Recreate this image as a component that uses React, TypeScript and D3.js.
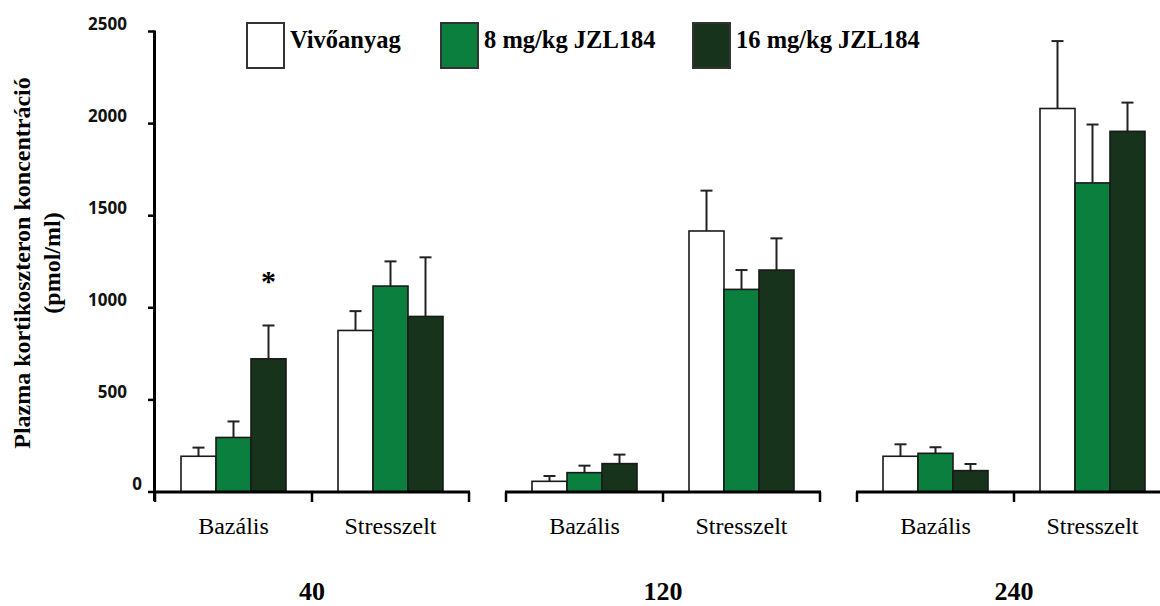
import React from 'react'
import * as d3 from 'd3'

// minutes after treatment
const durations = ['40', '120', '240']
const conditions = ['Bazális', 'Stresszelt']
const seriesNames = ['Vivőanyag', '8 mg/kg JZL184', '16 mg/kg JZL184']
const seriesColors = ['#ffffff', '#0b7f3e', '#17331b']

// means and SEM, ordered 40/Bazális, 40/Stresszelt, 120/Bazális, ...
const vehicleMean = [194, 877, 58, 1417, 194, 2082]
const vehicleSem = [47, 105, 29, 219, 65, 366]
const jzl8Mean = [296, 1118, 105, 1100, 210, 1678]
const jzl8Sem = [87, 134, 38, 105, 33, 317]
const jzl16Mean = [723, 953, 154, 1205, 116, 1958]
const jzl16Sem = [181, 321, 49, 172, 36, 156]

const yTicks = [0, 500, 1000, 1500, 2000, 2500]
// significant vs vehicle: [duration, condition, series]
const starred = [['40', 'Bazális', '16 mg/kg JZL184']]

const W = 1160
const H = 606
const serif = '"Liberation Serif", "Times New Roman", serif'
const sans = '"Open Sans", "Liberation Sans", sans-serif'

export default function App() {
  const y = d3.scaleLinear().domain([0, 2500]).range([492, 31.5])

  const segX = d3.scaleBand().domain(durations).range([155, 1171]).paddingInner(0.1054).paddingOuter(0)
  const segW = segX.bandwidth()
  const condX = d3.scaleBand().domain(conditions).range([0, segW])
  const half = condX.bandwidth()
  const barX = d3.scaleBand().domain(seriesNames).range([0, half]).paddingInner(0).paddingOuter((half / 35 - 3) / 2)
  const bw = barX.bandwidth()

  const means = [vehicleMean, jzl8Mean, jzl16Mean]
  const sems = [vehicleSem, jzl8Sem, jzl16Sem]

  const bars: any[] = []
  durations.forEach((d, di) => {
    conditions.forEach((c, ci) => {
      const idx = di * conditions.length + ci
      seriesNames.forEach((s, si) => {
        bars.push({
          d, c, s, si,
          x: segX(d)! + condX(c)! + barX(s)!,
          mean: means[si][idx],
          sem: sems[si][idx],
        })
      })
    })
  })

  const legendX = [247, 441, 693]

  return (
    <svg width={W} height={H} style={{ position: 'absolute', left: 0, top: 0, background: '#fff' }}>
      {/* y axis title */}
      <g transform="translate(30,263) rotate(-90)">
        <text textAnchor="middle" fontFamily={serif} fontWeight="bold" fontSize={24} fill="#000">
          Plazma kortikoszteron koncentráció
        </text>
      </g>
      <g transform="translate(60,263) rotate(-90)">
        <text textAnchor="middle" fontFamily={serif} fontWeight="bold" fontSize={24} fill="#000">
          (pmol/ml)
        </text>
      </g>

      {/* y axis */}
      <line x1={154.5} x2={154.5} y1={y(2500) - 1} y2={501} stroke="#000" strokeWidth={3} />
      {yTicks.map(t => (
        <g key={t}>
          <line x1={148} x2={154.5} y1={y(t)} y2={y(t)} stroke="#000" strokeWidth={2.5} />
          <text
            x={t === 0 ? 142 : 127}
            y={y(t) - 2}
            textAnchor="end"
            fontFamily={sans}
            fontWeight="bold"
            fontSize={17}
            fill="#111"
          >
            {t}
          </text>
        </g>
      ))}

      {/* bars */}
      {bars.map((b, i) => (
        <g key={i}>
          <line
            x1={b.x + bw / 2}
            x2={b.x + bw / 2}
            y1={y(b.mean)}
            y2={y(b.mean + b.sem)}
            stroke="#222"
            strokeWidth={2}
          />
          <line
            x1={b.x + bw / 2 - 6}
            x2={b.x + bw / 2 + 6}
            y1={y(b.mean + b.sem)}
            y2={y(b.mean + b.sem)}
            stroke="#222"
            strokeWidth={2}
          />
          <rect
            x={b.x}
            y={y(b.mean)}
            width={bw}
            height={y(0) - y(b.mean)}
            fill={seriesColors[b.si]}
            stroke="#1a1a1a"
            strokeWidth={1.6}
          />
        </g>
      ))}

      {/* significance */}
      {starred.map(([d, c, s], i) => {
        const b = bars.find(bb => bb.d === d && bb.c === c && bb.s === s)
        return (
          <text
            key={i}
            x={b.x + bw / 2}
            y={y(b.mean + b.sem) - 34}
            textAnchor="middle"
            fontFamily={serif}
            fontWeight="bold"
            fontSize={30}
            fill="#000"
          >
            *
          </text>
        )
      })}

      {/* x axis segments */}
      {durations.map(d => {
        const x0 = segX(d)!
        return (
          <g key={d}>
            <line x1={x0 - 1} x2={x0 + segW + 1} y1={y(0)} y2={y(0)} stroke="#000" strokeWidth={3} />
            {[0, half, segW].map((o, k) => (
              <line key={k} x1={x0 + o} x2={x0 + o} y1={y(0)} y2={y(0) + 10} stroke="#000" strokeWidth={2.5} />
            ))}
            {conditions.map(c => (
              <text
                key={c}
                x={x0 + condX(c)! + half / 2}
                y={534}
                textAnchor="middle"
                fontFamily={serif}
                fontSize={24}
                fill="#000"
              >
                {c}
              </text>
            ))}
            <text
              x={x0 + segW / 2}
              y={600}
              textAnchor="middle"
              fontFamily={serif}
              fontWeight="bold"
              fontSize={26}
              fill="#000"
            >
              {d}
            </text>
          </g>
        )
      })}

      {/* legend */}
      {seriesNames.map((s, i) => (
        <g key={s} transform={`translate(${legendX[i]},23)`}>
          <rect x={0} y={0} width={37} height={45} fill={seriesColors[i]} stroke="#333" strokeWidth={2} />
          <text x={43} y={25} fontFamily={serif} fontWeight="bold" fontSize={24.5} fill="#000">
            {s}
          </text>
        </g>
      ))}
    </svg>
  )
}
